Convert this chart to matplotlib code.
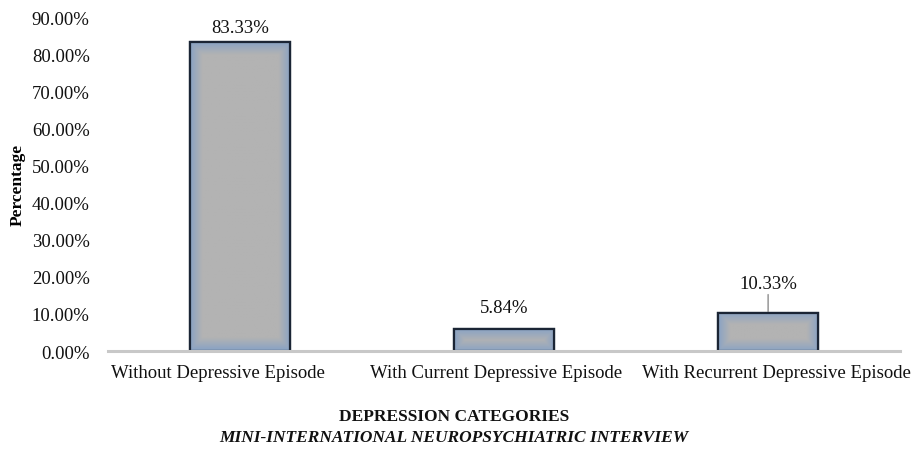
import numpy as np
import matplotlib
matplotlib.use("Agg")
import matplotlib.pyplot as plt
import matplotlib.transforms as mtransforms
from matplotlib.colors import to_rgb
from matplotlib.ticker import FuncFormatter

categories = ["Without Depressive Episode", "With Current Depressive Episode", "With Recurrent Depressive Episode"]
values = [83.33, 5.84, 10.33]
value_labels = ["83.33%", "5.84%", "10.33%"]
y_ticks = [0, 10, 20, 30, 40, 50, 60, 70, 80, 90]

plt.rcParams['font.family'] = ['Liberation Serif', 'DejaVu Serif']

fig = plt.figure(figsize=(9.13, 4.52), dpi=100)
ax = fig.add_axes([0.118, 0.221, 0.868, 0.739])

x = np.arange(len(categories))
bars = ax.bar(x, values, width=0.38, color='#b3b3b3', edgecolor='#1b2535', linewidth=1.6, zorder=3)

ax.set_xlim(-0.5, len(categories) - 0.5)
ax.set_ylim(0, 90)
ax.set_yticks(y_ticks)
ax.yaxis.set_major_formatter(FuncFormatter(lambda v, p: f"{v:.2f}%"))
ax.set_xticks(x)
ax.set_xticklabels(categories)
ax.tick_params(axis='both', length=0, labelsize=13.5, colors='#111111')
ax.tick_params(axis='y', pad=13)
ax.tick_params(axis='x', pad=9)
for s in ['top', 'right', 'left']:
    ax.spines[s].set_visible(False)
ax.spines['bottom'].set_color('#c8c8c8')
ax.spines['bottom'].set_linewidth(2.2)
ax.spines['bottom'].set_zorder(4)

# shift category labels slightly as in the reference
shifts_px = [-22, -8, 8]
for lbl, sh in zip(ax.get_xticklabels(), shifts_px):
    lbl.set_transform(lbl.get_transform() + mtransforms.ScaledTranslation(sh / 100.0, 0, fig.dpi_scale_trans))

# gradient fill inside bars (steel-blue edges fading to gray centre)
edge_c = np.array(to_rgb('#8aa3c4'))
mid_c = np.array(to_rgb('#b3b3b3'))
for b in bars:
    bx, by = b.get_x(), b.get_y()
    bw, bh = b.get_width(), b.get_height()
    ny, nx = 100, 100
    uu, vv = np.meshgrid(np.linspace(0, 1, nx), np.linspace(0, 1, ny))
    wpx = 100.0
    hpx = bh * 3.71
    d = np.minimum(np.minimum(uu, 1 - uu) * wpx, np.minimum(vv, 1 - vv) * hpx)
    t = np.clip(d / 12.0, 0, 1)[..., None]
    img = edge_c * (1 - t) + mid_c * t
    im = ax.imshow(img, extent=(bx, bx + bw, by, by + bh), origin='lower',
                   aspect='auto', zorder=3.5, interpolation='bilinear')
    im.set_clip_path(b)
    ax.add_patch(plt.Rectangle((bx, by), bw, bh, fill=False, edgecolor='#1b2535',
                               linewidth=1.6, zorder=3.8))
ax.set_xlim(-0.5, len(categories) - 0.5)
ax.set_ylim(0, 90)

offsets = [4, 10, 15]
leader = [False, False, True]
for i, (v, lab, off, ld) in enumerate(zip(values, value_labels, offsets, leader)):
    kw = dict(xy=(x[i], v), xytext=(0, off), textcoords='offset points',
              ha='center', va='bottom', fontsize=13.5, color='#111111', annotation_clip=False)
    if ld:
        kw['arrowprops'] = dict(arrowstyle='-', color='#a0a0a0', lw=1.2, shrinkA=0, shrinkB=0)
    ax.annotate(lab, **kw)

ax.set_ylabel('Percentage', fontsize=12.5, fontweight='bold')
ax.yaxis.set_label_coords(-0.103, 0.5)

fig.text(0.497, 0.078, 'DEPRESSION CATEGORIES', ha='center', va='center',
         fontsize=12.5, fontweight='bold', color='#111111')
fig.text(0.497, 0.032, 'MINI-INTERNATIONAL NEUROPSYCHIATRIC INTERVIEW', ha='center', va='center',
         fontsize=12.5, fontweight='bold', fontstyle='italic', color='#111111')

fig.savefig('out.png', dpi=100)
